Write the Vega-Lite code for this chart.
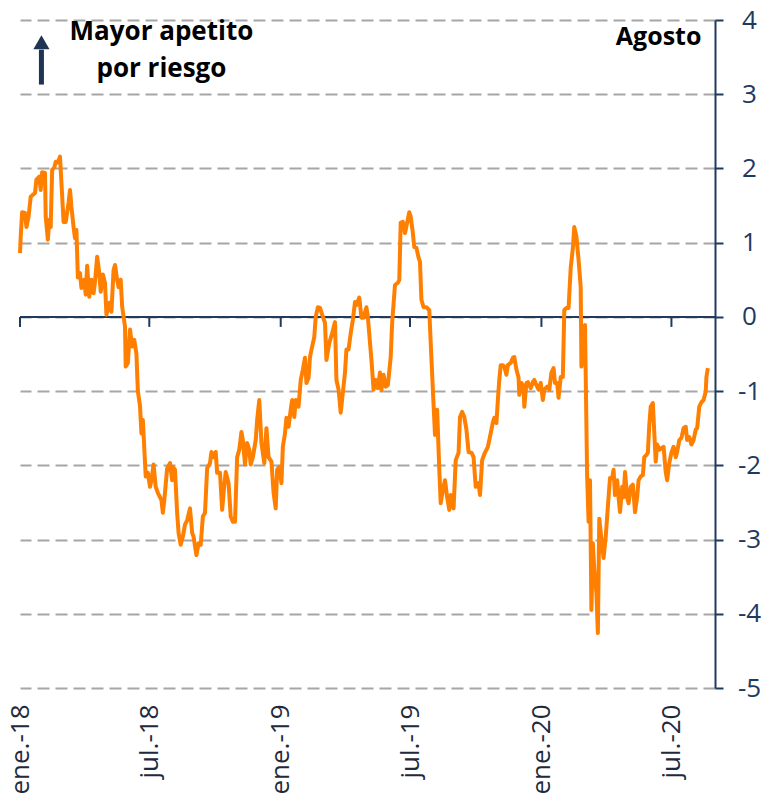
{
  "$schema": "https://vega.github.io/schema/vega-lite/v6.json",
  "width": 695,
  "height": 668,
  "autosize": "none",
  "padding": {"left": 20, "top": 20, "right": 54, "bottom": 119},
  "config": {"view": {"stroke": null}, "font": "Open Sans"},
  "datasets": {
    "serie": [
      {"fecha":"2018-01-01","valor":0.86},{"fecha":"2018-01-02","valor":1.08},{"fecha":"2018-01-04","valor":1.41},{"fecha":"2018-01-08","valor":1.40},{"fecha":"2018-01-10","valor":1.21},{"fecha":"2018-01-13","valor":1.35},{"fecha":"2018-01-16","valor":1.62},{"fecha":"2018-01-22","valor":1.67},{"fecha":"2018-01-24","valor":1.85},{"fecha":"2018-01-28","valor":1.89},{"fecha":"2018-01-30","valor":1.71},
      {"fecha":"2018-02-01","valor":1.95},{"fecha":"2018-02-05","valor":1.94},{"fecha":"2018-02-06","valor":1.35},{"fecha":"2018-02-09","valor":1.04},{"fecha":"2018-02-11","valor":1.31},{"fecha":"2018-02-13","valor":1.21},{"fecha":"2018-02-15","valor":1.98},{"fecha":"2018-02-18","valor":2.01},{"fecha":"2018-02-20","valor":2.09},{"fecha":"2018-02-23","valor":2.08},{"fecha":"2018-02-26","valor":2.16},{"fecha":"2018-02-28","valor":1.81},
      {"fecha":"2018-03-03","valor":1.28},{"fecha":"2018-03-06","valor":1.28},{"fecha":"2018-03-10","valor":1.54},{"fecha":"2018-03-12","valor":1.71},{"fecha":"2018-03-14","valor":1.48},{"fecha":"2018-03-17","valor":1.21},{"fecha":"2018-03-19","valor":1.06},{"fecha":"2018-03-21","valor":1.17},{"fecha":"2018-03-23","valor":0.53},{"fecha":"2018-03-26","valor":0.59},{"fecha":"2018-03-28","valor":0.39},
      {"fecha":"2018-04-01","valor":0.50},{"fecha":"2018-04-03","valor":0.30},{"fecha":"2018-04-05","valor":0.69},{"fecha":"2018-04-08","valor":0.27},{"fecha":"2018-04-11","valor":0.50},{"fecha":"2018-04-14","valor":0.32},{"fecha":"2018-04-16","valor":0.47},{"fecha":"2018-04-19","valor":0.81},{"fecha":"2018-04-22","valor":0.59},{"fecha":"2018-04-24","valor":0.34},{"fecha":"2018-04-27","valor":0.57},{"fecha":"2018-04-30","valor":0.46},
      {"fecha":"2018-05-02","valor":0.03},{"fecha":"2018-05-06","valor":0.19},{"fecha":"2018-05-09","valor":0.07},{"fecha":"2018-05-12","valor":0.63},{"fecha":"2018-05-14","valor":0.70},{"fecha":"2018-05-17","valor":0.50},{"fecha":"2018-05-19","valor":0.40},{"fecha":"2018-05-22","valor":0.50},{"fecha":"2018-05-24","valor":0.14},{"fecha":"2018-05-28","valor":-0.13},{"fecha":"2018-05-29","valor":-0.67},
      {"fecha":"2018-06-01","valor":-0.62},{"fecha":"2018-06-04","valor":-0.17},{"fecha":"2018-06-07","valor":-0.40},{"fecha":"2018-06-10","valor":-0.31},{"fecha":"2018-06-13","valor":-0.50},{"fecha":"2018-06-15","valor":-1.00},{"fecha":"2018-06-18","valor":-1.20},{"fecha":"2018-06-20","valor":-1.57},{"fecha":"2018-06-22","valor":-1.39},{"fecha":"2018-06-26","valor":-2.15},{"fecha":"2018-06-29","valor":-2.10},
      {"fecha":"2018-07-02","valor":-2.29},{"fecha":"2018-07-04","valor":-2.20},{"fecha":"2018-07-07","valor":-1.99},{"fecha":"2018-07-10","valor":-2.29},{"fecha":"2018-07-13","valor":-2.37},{"fecha":"2018-07-18","valor":-2.47},{"fecha":"2018-07-20","valor":-2.64},{"fecha":"2018-07-22","valor":-2.47},{"fecha":"2018-07-26","valor":-2.04},{"fecha":"2018-07-30","valor":-1.97},
      {"fecha":"2018-08-02","valor":-2.20},{"fecha":"2018-08-03","valor":-2.02},{"fecha":"2018-08-06","valor":-2.06},{"fecha":"2018-08-09","valor":-2.64},{"fecha":"2018-08-11","valor":-2.91},{"fecha":"2018-08-14","valor":-3.07},{"fecha":"2018-08-17","valor":-2.96},{"fecha":"2018-08-20","valor":-2.80},{"fecha":"2018-08-23","valor":-2.74},{"fecha":"2018-08-27","valor":-2.58},{"fecha":"2018-08-30","valor":-2.91},
      {"fecha":"2018-09-01","valor":-2.96},{"fecha":"2018-09-05","valor":-3.21},{"fecha":"2018-09-08","valor":-3.05},{"fecha":"2018-09-11","valor":-3.07},{"fecha":"2018-09-14","valor":-2.69},{"fecha":"2018-09-17","valor":-2.64},{"fecha":"2018-09-20","valor":-2.04},{"fecha":"2018-09-24","valor":-1.97},{"fecha":"2018-09-26","valor":-1.82},{"fecha":"2018-09-29","valor":-1.89},
      {"fecha":"2018-10-02","valor":-1.82},{"fecha":"2018-10-04","valor":-2.10},{"fecha":"2018-10-08","valor":-2.10},{"fecha":"2018-10-11","valor":-2.60},{"fecha":"2018-10-13","valor":-2.37},{"fecha":"2018-10-16","valor":-2.09},{"fecha":"2018-10-20","valor":-2.24},{"fecha":"2018-10-23","valor":-2.69},{"fecha":"2018-10-26","valor":-2.76},{"fecha":"2018-10-29","valor":-2.76},
      {"fecha":"2018-11-01","valor":-1.89},{"fecha":"2018-11-04","valor":-1.79},{"fecha":"2018-11-07","valor":-1.55},{"fecha":"2018-11-09","valor":-1.66},{"fecha":"2018-11-12","valor":-1.99},{"fecha":"2018-11-15","valor":-1.70},{"fecha":"2018-11-18","valor":-1.79},{"fecha":"2018-11-20","valor":-1.99},{"fecha":"2018-11-23","valor":-1.89},{"fecha":"2018-11-27","valor":-1.66},{"fecha":"2018-11-29","valor":-1.39},
      {"fecha":"2018-12-02","valor":-1.12},{"fecha":"2018-12-05","valor":-1.70},{"fecha":"2018-12-09","valor":-1.97},{"fecha":"2018-12-12","valor":-1.50},{"fecha":"2018-12-15","valor":-1.89},{"fecha":"2018-12-19","valor":-1.95},{"fecha":"2018-12-22","valor":-2.37},{"fecha":"2018-12-25","valor":-2.58},{"fecha":"2018-12-27","valor":-2.06},{"fecha":"2018-12-30","valor":-2.02},
      {"fecha":"2019-01-02","valor":-2.24},{"fecha":"2019-01-04","valor":-1.75},{"fecha":"2019-01-07","valor":-1.57},{"fecha":"2019-01-09","valor":-1.36},{"fecha":"2019-01-12","valor":-1.48},{"fecha":"2019-01-15","valor":-1.25},{"fecha":"2019-01-17","valor":-1.12},{"fecha":"2019-01-20","valor":-1.35},{"fecha":"2019-01-22","valor":-1.12},{"fecha":"2019-01-26","valor":-1.21},{"fecha":"2019-01-29","valor":-0.85},
      {"fecha":"2019-02-01","valor":-0.71},{"fecha":"2019-02-04","valor":-0.55},{"fecha":"2019-02-06","valor":-0.89},{"fecha":"2019-02-09","valor":-0.82},{"fecha":"2019-02-11","valor":-0.54},{"fecha":"2019-02-14","valor":-0.40},{"fecha":"2019-02-17","valor":-0.27},{"fecha":"2019-02-19","valor":0.00},{"fecha":"2019-02-22","valor":0.13},{"fecha":"2019-02-25","valor":0.12},{"fecha":"2019-02-28","valor":0.03},
      {"fecha":"2019-03-04","valor":-0.08},{"fecha":"2019-03-06","valor":-0.58},{"fecha":"2019-03-10","valor":-0.35},{"fecha":"2019-03-14","valor":-0.22},{"fecha":"2019-03-18","valor":-0.07},{"fecha":"2019-03-20","valor":-0.85},{"fecha":"2019-03-23","valor":-0.98},{"fecha":"2019-03-26","valor":-1.29},{"fecha":"2019-03-29","valor":-1.02},
      {"fecha":"2019-04-01","valor":-0.75},{"fecha":"2019-04-03","valor":-0.44},{"fecha":"2019-04-06","valor":-0.44},{"fecha":"2019-04-09","valor":-0.22},{"fecha":"2019-04-12","valor":-0.04},{"fecha":"2019-04-15","valor":0.20},{"fecha":"2019-04-17","valor":0.16},{"fecha":"2019-04-21","valor":0.26},{"fecha":"2019-04-24","valor":-0.01},{"fecha":"2019-04-27","valor":-0.01},
      {"fecha":"2019-05-01","valor":0.13},{"fecha":"2019-05-03","valor":0.00},{"fecha":"2019-05-06","valor":-0.35},{"fecha":"2019-05-08","valor":-0.58},{"fecha":"2019-05-11","valor":-0.98},{"fecha":"2019-05-14","valor":-0.85},{"fecha":"2019-05-17","valor":-0.96},{"fecha":"2019-05-20","valor":-0.75},{"fecha":"2019-05-22","valor":-0.98},{"fecha":"2019-05-25","valor":-0.78},{"fecha":"2019-05-28","valor":-0.94},{"fecha":"2019-05-31","valor":-0.92},
      {"fecha":"2019-06-04","valor":-0.54},{"fecha":"2019-06-06","valor":-0.08},{"fecha":"2019-06-10","valor":0.43},{"fecha":"2019-06-14","valor":0.46},{"fecha":"2019-06-16","valor":0.50},{"fecha":"2019-06-18","valor":1.27},{"fecha":"2019-06-21","valor":1.28},{"fecha":"2019-06-24","valor":1.13},{"fecha":"2019-06-27","valor":1.27},{"fecha":"2019-06-30","valor":1.41},
      {"fecha":"2019-07-02","valor":1.35},{"fecha":"2019-07-05","valor":1.13},{"fecha":"2019-07-07","valor":0.94},{"fecha":"2019-07-10","valor":0.93},{"fecha":"2019-07-13","valor":0.80},{"fecha":"2019-07-15","valor":0.74},{"fecha":"2019-07-17","valor":0.23},{"fecha":"2019-07-20","valor":0.13},{"fecha":"2019-07-24","valor":0.13},{"fecha":"2019-07-28","valor":0.09},{"fecha":"2019-07-30","valor":-0.35},
      {"fecha":"2019-08-02","valor":-0.98},{"fecha":"2019-08-05","valor":-1.59},{"fecha":"2019-08-08","valor":-1.25},{"fecha":"2019-08-11","valor":-2.06},{"fecha":"2019-08-13","valor":-2.51},{"fecha":"2019-08-16","valor":-2.33},{"fecha":"2019-08-19","valor":-2.20},{"fecha":"2019-08-22","valor":-2.43},{"fecha":"2019-08-25","valor":-2.60},{"fecha":"2019-08-27","valor":-2.40},{"fecha":"2019-08-31","valor":-2.58},
      {"fecha":"2019-09-03","valor":-1.93},{"fecha":"2019-09-07","valor":-1.83},{"fecha":"2019-09-09","valor":-1.35},{"fecha":"2019-09-12","valor":-1.28},{"fecha":"2019-09-15","valor":-1.35},{"fecha":"2019-09-18","valor":-1.52},{"fecha":"2019-09-21","valor":-1.82},{"fecha":"2019-09-25","valor":-1.83},{"fecha":"2019-09-28","valor":-1.89},
      {"fecha":"2019-10-01","valor":-2.29},{"fecha":"2019-10-05","valor":-2.24},{"fecha":"2019-10-07","valor":-2.40},{"fecha":"2019-10-10","valor":-1.93},{"fecha":"2019-10-13","valor":-1.85},{"fecha":"2019-10-18","valor":-1.75},{"fecha":"2019-10-20","valor":-1.66},{"fecha":"2019-10-23","valor":-1.52},{"fecha":"2019-10-25","valor":-1.42},{"fecha":"2019-10-27","valor":-1.36},{"fecha":"2019-10-30","valor":-1.43},
      {"fecha":"2019-11-01","valor":-1.12},{"fecha":"2019-11-03","valor":-0.85},{"fecha":"2019-11-05","valor":-0.65},{"fecha":"2019-11-08","valor":-0.65},{"fecha":"2019-11-10","valor":-0.67},{"fecha":"2019-11-13","valor":-0.78},{"fecha":"2019-11-15","valor":-0.65},{"fecha":"2019-11-19","valor":-0.62},{"fecha":"2019-11-22","valor":-0.55},{"fecha":"2019-11-24","valor":-0.54},{"fecha":"2019-11-27","valor":-0.71},{"fecha":"2019-11-30","valor":-0.82},
      {"fecha":"2019-12-01","valor":-1.05},{"fecha":"2019-12-04","valor":-0.89},{"fecha":"2019-12-07","valor":-0.94},{"fecha":"2019-12-08","valor":-1.21},{"fecha":"2019-12-11","valor":-0.89},{"fecha":"2019-12-13","valor":-0.88},{"fecha":"2019-12-17","valor":-0.96},{"fecha":"2019-12-20","valor":-0.88},{"fecha":"2019-12-22","valor":-0.85},{"fecha":"2019-12-25","valor":-0.92},{"fecha":"2019-12-28","valor":-0.98},{"fecha":"2019-12-31","valor":-0.89},
      {"fecha":"2020-01-03","valor":-1.12},{"fecha":"2020-01-05","valor":-0.98},{"fecha":"2020-01-09","valor":-0.94},{"fecha":"2020-01-12","valor":-0.98},{"fecha":"2020-01-15","valor":-0.75},{"fecha":"2020-01-18","valor":-0.69},{"fecha":"2020-01-20","valor":-0.89},{"fecha":"2020-01-23","valor":-0.89},{"fecha":"2020-01-25","valor":-1.09},{"fecha":"2020-01-28","valor":-0.81},{"fecha":"2020-01-31","valor":-0.81},
      {"fecha":"2020-02-02","valor":0.09},{"fecha":"2020-02-05","valor":0.12},{"fecha":"2020-02-08","valor":0.12},{"fecha":"2020-02-11","valor":0.66},{"fecha":"2020-02-14","valor":0.93},{"fecha":"2020-02-16","valor":1.21},{"fecha":"2020-02-19","valor":1.08},{"fecha":"2020-02-22","valor":0.77},{"fecha":"2020-02-25","valor":0.40},{"fecha":"2020-02-26","valor":-0.67},{"fecha":"2020-02-29","valor":-0.13},
      {"fecha":"2020-03-02","valor":-0.11},{"fecha":"2020-03-05","valor":-2.15},{"fecha":"2020-03-07","valor":-2.76},{"fecha":"2020-03-09","valor":-2.20},{"fecha":"2020-03-11","valor":-3.95},{"fecha":"2020-03-13","valor":-3.05},{"fecha":"2020-03-15","valor":-3.41},{"fecha":"2020-03-18","valor":-3.72},{"fecha":"2020-03-20","valor":-4.26},{"fecha":"2020-03-22","valor":-2.72},{"fecha":"2020-03-25","valor":-3.00},{"fecha":"2020-03-28","valor":-3.25},{"fecha":"2020-03-31","valor":-2.96},
      {"fecha":"2020-04-03","valor":-2.56},{"fecha":"2020-04-06","valor":-2.17},{"fecha":"2020-04-09","valor":-2.17},{"fecha":"2020-04-11","valor":-2.06},{"fecha":"2020-04-13","valor":-2.40},{"fecha":"2020-04-16","valor":-2.20},{"fecha":"2020-04-18","valor":-2.43},{"fecha":"2020-04-20","valor":-2.63},{"fecha":"2020-04-23","valor":-2.29},{"fecha":"2020-04-25","valor":-2.43},{"fecha":"2020-04-27","valor":-2.09},{"fecha":"2020-04-30","valor":-2.43},
      {"fecha":"2020-05-02","valor":-2.51},{"fecha":"2020-05-05","valor":-2.29},{"fecha":"2020-05-08","valor":-2.26},{"fecha":"2020-05-11","valor":-2.63},{"fecha":"2020-05-14","valor":-2.43},{"fecha":"2020-05-16","valor":-2.20},{"fecha":"2020-05-19","valor":-2.15},{"fecha":"2020-05-22","valor":-2.13},{"fecha":"2020-05-24","valor":-1.89},{"fecha":"2020-05-27","valor":-1.86},{"fecha":"2020-05-29","valor":-1.83},{"fecha":"2020-05-31","valor":-1.46},
      {"fecha":"2020-06-02","valor":-1.21},{"fecha":"2020-06-05","valor":-1.16},{"fecha":"2020-06-07","valor":-1.56},{"fecha":"2020-06-09","valor":-1.95},{"fecha":"2020-06-11","valor":-1.72},{"fecha":"2020-06-14","valor":-1.79},{"fecha":"2020-06-17","valor":-1.77},{"fecha":"2020-06-20","valor":-1.75},{"fecha":"2020-06-23","valor":-2.09},{"fecha":"2020-06-25","valor":-2.20},{"fecha":"2020-06-28","valor":-1.97},
      {"fecha":"2020-07-01","valor":-1.83},{"fecha":"2020-07-04","valor":-1.75},{"fecha":"2020-07-07","valor":-1.89},{"fecha":"2020-07-09","valor":-1.82},{"fecha":"2020-07-12","valor":-1.66},{"fecha":"2020-07-15","valor":-1.63},{"fecha":"2020-07-18","valor":-1.50},{"fecha":"2020-07-21","valor":-1.48},{"fecha":"2020-07-23","valor":-1.66},{"fecha":"2020-07-26","valor":-1.62},{"fecha":"2020-07-29","valor":-1.72},
      {"fecha":"2020-08-01","valor":-1.66},{"fecha":"2020-08-04","valor":-1.52},{"fecha":"2020-08-06","valor":-1.50},{"fecha":"2020-08-09","valor":-1.21},{"fecha":"2020-08-12","valor":-1.15},{"fecha":"2020-08-15","valor":-1.12},{"fecha":"2020-08-18","valor":-1.01},{"fecha":"2020-08-19","valor":-0.81},{"fecha":"2020-08-21","valor":-0.69}
    ],
    "marcas": [
      {"fecha":"2018-01-01"},{"fecha":"2018-07-01"},{"fecha":"2019-01-01"},{"fecha":"2019-07-01"},{"fecha":"2020-01-01"},{"fecha":"2020-07-01"}
    ]
  },
  "layer": [
    {
      "data": {"name": "marcas"},
      "mark": {"type": "rule", "color": "#1F3A5F", "strokeWidth": 2},
      "encoding": {
        "x": {
          "field": "fecha", "type": "temporal",
          "scale": {"type": "utc", "domain": [{"year": 2018, "month": 1, "date": 1, "utc": true}, {"year": 2020, "month": 8, "date": 31, "utc": true}]},
          "axis": {
            "title": null, "orient": "bottom",
            "values": [
              {"year": 2018, "month": 1, "date": 1, "utc": true},
              {"year": 2018, "month": 7, "date": 1, "utc": true},
              {"year": 2019, "month": 1, "date": 1, "utc": true},
              {"year": 2019, "month": 7, "date": 1, "utc": true},
              {"year": 2020, "month": 1, "date": 1, "utc": true},
              {"year": 2020, "month": 7, "date": 1, "utc": true}
            ],
            "labelExpr": "(utcFormat(datum.value,'%m')=='01'?'ene.':'jul.')+'-'+utcFormat(datum.value,'%y')",
            "labelAngle": -90, "labelFontSize": 26, "labelColor": "#1F2A3C", "labelPadding": 16,
            "domain": false, "ticks": false, "grid": false, "labelOverlap": false, "labelBound": false, "labelFlush": false
          }
        },
        "y": {"datum": 0, "type": "quantitative"},
        "y2": {"datum": -0.135}
      }
    },
    {
      "data": {"values": [{}]},
      "mark": {"type": "rule", "color": "#1F3A5F", "strokeWidth": 2},
      "encoding": {
        "y": {
          "datum": 0, "type": "quantitative",
          "scale": {"domain": [-5, 4], "nice": false, "zero": false},
          "axis": {
            "title": null, "orient": "right",
            "labelExpr": "'' + datum.value",
            "values": [-5, -4, -3, -2, -1, 0, 1, 2, 3, 4],
            "grid": true, "gridDash": [12, 6], "gridColor": "#A6A6A6", "gridWidth": 2,
            "domainColor": "#1F3A5F", "domainWidth": 2,
            "tickColor": "#1F3A5F", "tickWidth": 2, "tickSize": 8,
            "labelFontSize": 26, "labelColor": "#1F3A5F", "labelAlign": "center", "labelPadding": 26,
            "labelBound": false, "labelFlush": false, "labelOverlap": false
          }
        }
      }
    },
    {
      "data": {"name": "serie"},
      "mark": {"type": "line", "color": "#FF7F00", "strokeWidth": 4, "strokeJoin": "round"},
      "encoding": {
        "x": {"field": "fecha", "type": "temporal", "axis": {"title": null}},
        "y": {"field": "valor", "type": "quantitative", "axis": {"title": null}}
      }
    },
    {
      "data": {"values": [{}]},
      "mark": {"type": "rule", "color": "#1F3354", "strokeWidth": 5},
      "encoding": {
        "x": {"datum": {"year": 2018, "month": 1, "date": 31, "utc": true}, "type": "temporal"},
        "y": {"datum": 3.13, "type": "quantitative"},
        "y2": {"datum": 3.6}
      }
    },
    {
      "data": {"values": [{}]},
      "mark": {"type": "point", "shape": "triangle-up", "filled": true, "color": "#1F3354", "size": 260, "opacity": 1},
      "encoding": {
        "x": {"datum": {"year": 2018, "month": 1, "date": 31, "utc": true}, "type": "temporal"},
        "y": {"datum": 3.7, "type": "quantitative"}
      }
    },
    {
      "data": {"values": [{}]},
      "mark": {"type": "text", "text": "Mayor apetito", "fontWeight": "bold", "fontSize": 26, "color": "#000000", "align": "center", "baseline": "alphabetic"},
      "encoding": {
        "x": {"datum": {"year": 2018, "month": 7, "date": 18, "utc": true}, "type": "temporal"},
        "y": {"datum": 3.733, "type": "quantitative"}
      }
    },
    {
      "data": {"values": [{}]},
      "mark": {"type": "text", "text": "por riesgo", "fontWeight": "bold", "fontSize": 26, "color": "#000000", "align": "center", "baseline": "alphabetic"},
      "encoding": {
        "x": {"datum": {"year": 2018, "month": 7, "date": 18, "utc": true}, "type": "temporal"},
        "y": {"datum": 3.234, "type": "quantitative"}
      }
    },
    {
      "data": {"values": [{}]},
      "mark": {"type": "text", "text": "Agosto", "fontWeight": "bold", "fontSize": 25, "color": "#000000", "align": "right", "baseline": "alphabetic"},
      "encoding": {
        "x": {"datum": {"year": 2020, "month": 8, "date": 12, "utc": true}, "type": "temporal"},
        "y": {"datum": 3.666, "type": "quantitative"}
      }
    }
  ]
}
